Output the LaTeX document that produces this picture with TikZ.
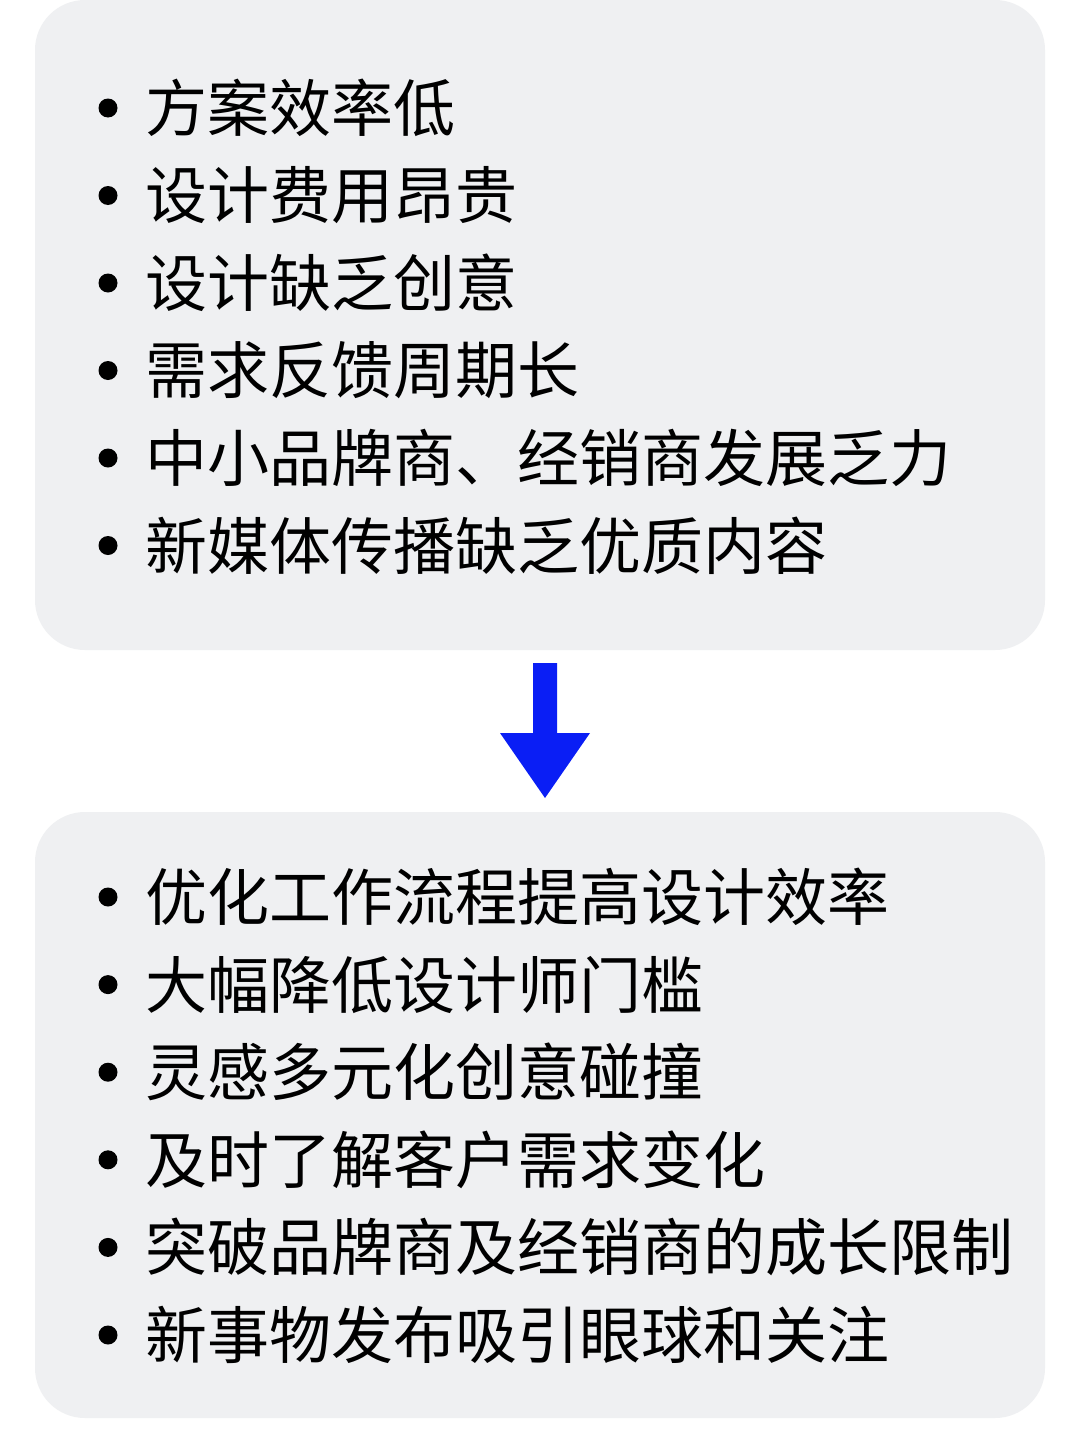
\documentclass[tikz,border=0pt]{standalone}
\usepackage{fontspec}
\setmainfont{Noto Sans CJK SC}
\definecolor{boxgray}{HTML}{EFF0F2}
\definecolor{arrowblue}{HTML}{0A1EF5}
\tikzset{
  panel/.style={fill=boxgray, rounded corners=50pt},
  itemtext/.style={anchor=west, inner sep=0pt, font=\fontsize{62}{62}\selectfont},
  dot/.style={circle, fill=black, minimum size=19pt, inner sep=0pt}
}
\begin{document}
\begin{tikzpicture}[x=1pt,y=-1pt]
\useasboundingbox (0,0) rectangle (1080,1429);
\fill[white] (0,0) rectangle (1080,1429);
\path[panel] (35,0) rectangle (1045,650);
\path[panel] (35,812) rectangle (1045,1418);

% problems
\foreach \txt [count=\i] in {方案效率低,设计费用昂贵,设计缺乏创意,需求反馈周期长,中小品牌商、经销商发展乏力,新媒体传播缺乏优质内容}{
  \node[dot] (pd\i) at (108,{108+87.5*(\i-1)}) {};
  \node[itemtext] (pt\i) at (145,{108+87.5*(\i-1)}) {\txt};
}

% solutions
\foreach \txt [count=\i] in {优化工作流程提高设计效率,大幅降低设计师门槛,灵感多元化创意碰撞,及时了解客户需求变化,突破品牌商及经销商的成长限制,新事物发布吸引眼球和关注}{
  \node[dot] (sd\i) at (108,{897+87.6*(\i-1)}) {};
  \node[itemtext] (st\i) at (145,{897+87.6*(\i-1)}) {\txt};
}

% arrow
\coordinate (arrtop) at (545,663);
\coordinate (arrtip) at (545,798);
\fill[arrowblue] (533,663) -- (557,663) -- (557,733) -- (590,733) -- (arrtip) -- (500,733) -- (533,733) -- cycle;
\end{tikzpicture}
\end{document}
